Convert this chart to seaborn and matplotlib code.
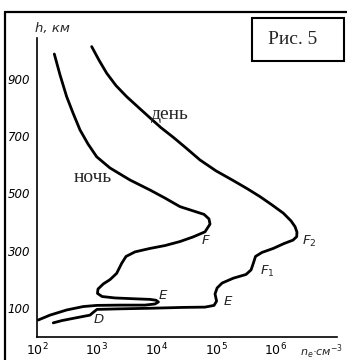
import matplotlib
matplotlib.use("Agg")
from matplotlib import pyplot as plt
from matplotlib.lines import Line2D
from matplotlib.patches import Rectangle
from matplotlib.ticker import NullLocator
import pandas as pd
import seaborn as sns

# electron density profiles, n_e in cm^-3, h in km
night_ne = [195, 243, 314, 401, 525, 714, 1000, 1670, 3610, 7820, 13900,
            24800, 44400, 62700, 76000, 79100, 65200, 41000, 24800, 13900,
            7820, 4390, 3100, 2620, 2160, 1670, 1290, 1050, 1030, 1230, 2030,
            4390, 7820, 9840, 10800, 9480, 6440, 2450, 1000, 597, 314, 165, 105]
night_h = [987, 914, 838, 781, 722, 673, 628, 589, 547, 512, 484,
           454, 437, 427, 411, 393, 366, 348, 332, 318,
           308, 296, 280, 256, 221, 199, 184, 166, 151, 140, 135,
           132, 130, 127, 121, 114, 110, 110, 109, 105, 93, 75, 58]

day_ne = [824, 1090, 1470, 2100, 3180, 4920, 7820, 11900, 19200, 31300,
          53700, 99500, 194000, 330000, 543000, 863000, 1.34e6, 1.80e6,
          2.10e6, 2.26e6, 2.24e6, 1.94e6, 1.37e6, 908000, 587000, 457000,
          420000, 385000, 317000, 194000, 126000, 104000, 95900, 102000,
          92300, 65200, 28200, 7820, 2450, 1010, 867, 773, 434, 262, 187]
day_h = [1013, 966, 920, 877, 838, 802, 764, 730, 696, 659,
         617, 579, 545, 517, 489, 460, 431, 404,
         384, 365, 349, 337, 325, 308, 294, 280,
         256, 233, 217, 204, 187, 170, 149, 124,
         109, 103, 102, 99, 97, 95, 84, 75, 65, 56, 48]

y_ticks = [100, 300, 500, 700, 900]
x_ticks = [1e2, 1e3, 1e4, 1e5, 1e6]
x_tick_labels = [r"$10^{2}$", r"$10^{3}$", r"$10^{4}$", r"$10^{5}$", r"$10^{6}$"]

# layer labels: text, n_e, h
layer_text = ["F", r"F$_2$", r"F$_1$", "E", "E", "D"]
layer_ne = [67600, 3.6e6, 713000, 158000, 12900, 1090]
layer_h = [337, 334, 226, 121, 145, 58]

sns.set_style("white")
plt.rcParams["font.family"] = ["DejaVu Sans"]
plt.rcParams["mathtext.fontset"] = "dejavusans"
plt.rcParams["mathtext.default"] = "it"

W, H = 347, 360
fig = plt.figure(figsize=(W / 100, H / 100), dpi=100)
ax = fig.add_axes([37 / W, 23.4 / H, 300 / W, 298.6 / H])
ax.set_xscale("log")

night = pd.DataFrame({"ne": night_ne, "h": night_h})
day = pd.DataFrame({"ne": day_ne, "h": day_h})
for df in (night, day):
    sns.lineplot(data=df, x="ne", y="h", sort=False, estimator=None,
                 color="black", lw=2, ax=ax)

ax.set_xlim(1e2, 10 ** 7.025)
ax.set_ylim(0, 1043)
ax.set_xlabel("")
ax.set_ylabel("")
ax.spines[["top", "right"]].set_visible(False)
for s in ("left", "bottom"):
    ax.spines[s].set_color("black")
    ax.spines[s].set_linewidth(1.2)

ax.set_yticks(y_ticks)
ax.set_yticklabels([str(v) for v in y_ticks], style="italic", fontsize=8.5)
ax.set_xticks(x_ticks)
ax.set_xticklabels(x_tick_labels, fontsize=9)
ax.xaxis.set_minor_locator(NullLocator())
ax.tick_params(axis="y", direction="out", length=3, width=1, pad=2, colors="black")
ax.tick_params(axis="x", direction="in", length=3, width=1, pad=4, colors="black")

for t, x, y in zip(layer_text, layer_ne, layer_h):
    ax.text(x, y, t, fontsize=9.5, style="italic", ha="center", va="center")

ax.text(16900, 776, "день", family="Liberation Serif", fontsize=14,
        ha="center", va="center")
ax.text(851, 556, "ночь", family="Liberation Serif", fontsize=14,
        ha="center", va="center")

fig.text(35 / W, 1 - 32 / H, "h, км", style="italic", fontsize=9.5,
         ha="left", va="baseline")
fig.text(300 / W, 1 - 356 / H, r"n$_e$·см$^{-3}$", style="italic", fontsize=8,
         ha="left", va="baseline")

# figure frame (left and top edges) and caption box
fig.add_artist(Line2D([5 / W, 1], [1 - 12 / H, 1 - 12 / H],
                      transform=fig.transFigure, color="black", lw=1.6))
fig.add_artist(Line2D([5 / W, 5 / W], [0, 1 - 12 / H],
                      transform=fig.transFigure, color="black", lw=1.6))
fig.add_artist(Rectangle((252 / W, 1 - 61 / H), 92 / W, 43 / H, fill=False,
                         transform=fig.transFigure, color="black", lw=1.5))
fig.text(292.5 / W, 1 - 39 / H, "Рис. 5", family="Liberation Serif",
         fontsize=14, ha="center", va="center")

fig.savefig("out.png", dpi=100)
